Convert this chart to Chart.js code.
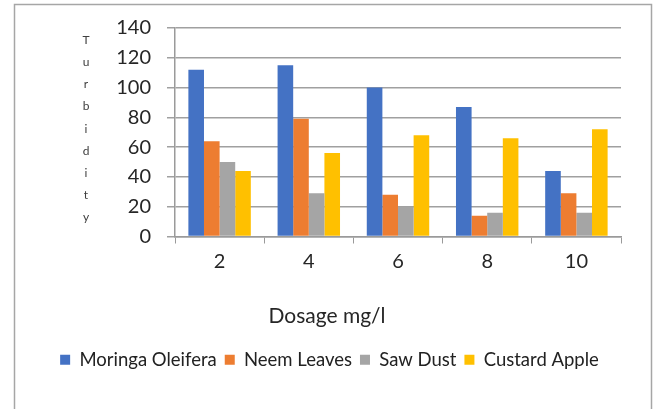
<!DOCTYPE html>
<html lang="en">
  <head>
    <meta charset="UTF-8" />
    <title>Turbidity vs Dosage</title>
    <script src="https://cdn.jsdelivr.net/npm/chart.js"></script>
    <style>
      body { margin: 0; background: #fff; }
    </style>
  </head>
  <body>
    <canvas id="turbChart" width="659" height="409"></canvas>

    <script>
      let labels = ['2', '4', '6', '8', '10'];

      let moringa = [112, 115, 100, 87, 44];
      let neem = [64, 79, 28, 14, 29];
      let sawDust = [50, 29, 20, 16, 16];
      let custard = [44, 56, 68, 66, 72];

      let yTitle = 'Turbidity';
      let xTitle = 'Dosage mg/l';
      let fontName = 'Lato, "Open Sans", sans-serif';

      // frame, stacked y title letters, x title centred on the whole chart
      var extras = {
        id: 'extras',
        afterLayout(chart) {
          // legend is centred on the full width, not on the plot area
          chart.legend.left = 0;
          chart.legend.right = chart.width;
          chart.legend.width = chart.width;
        },
        beforeDraw(chart) {
          const ctx = chart.ctx;
          ctx.save();
          ctx.fillStyle = '#fff';
          ctx.fillRect(0, 0, chart.width, chart.height);
          ctx.strokeStyle = '#a6a6a6';
          ctx.lineWidth = 1.5;
          ctx.strokeRect(14.5, 4.5, 637, 430);
          ctx.restore();
        },
        afterDraw(chart) {
          const ctx = chart.ctx;
          ctx.save();
          ctx.fillStyle = '#404040';
          ctx.font = '12px ' + fontName;
          ctx.textAlign = 'center';
          ctx.textBaseline = 'middle';
          for (let i = 0; i < yTitle.length; i++) {
            ctx.fillText(yTitle[i], 86, 40 + i * 22.2);
          }
          ctx.fillStyle = '#262626';
          ctx.font = '21px ' + fontName;
          ctx.fillText(xTitle, 327, 316);
          ctx.restore();
        },
      };

      var config = {
        type: 'bar',
        data: {
          labels,
          datasets: [
            { label: 'Moringa Oleifera', data: moringa, backgroundColor: '#4472C4' },
            { label: 'Neem Leaves', data: neem, backgroundColor: '#ED7D31' },
            { label: 'Saw Dust', data: sawDust, backgroundColor: '#A5A5A5' },
            { label: 'Custard Apple', data: custard, backgroundColor: '#FFC000' },
          ],
        },
        options: {
          responsive: false,
          animation: false,
          layout: { padding: { top: 27, right: 38, bottom: 30, left: 0 } },
          datasets: {
            bar: { categoryPercentage: 0.7, barPercentage: 1.0 },
          },
          plugins: {
            legend: {
              position: 'bottom',
              labels: {
                color: '#222',
                font: { family: fontName, size: 18.5 },
                boxWidth: 10,
                boxHeight: 10,
                padding: 8,
              },
            },
            tooltip: { enabled: false },
          },
          scales: {
            x: {
              afterFit(scale) { scale.height = 106; },
              grid: {
                offset: true,
                drawOnChartArea: false,
                drawTicks: true,
                tickLength: 7,
                color: '#9a9a9a',
              },
              border: { color: '#9a9a9a', width: 1.5 },
              ticks: {
                color: '#262626',
                font: { family: fontName, size: 20 },
                padding: 6,
              },
            },
            y: {
              min: 0,
              max: 140,
              afterFit(scale) { scale.width = 175; },
              grid: { color: '#a0a0a0', lineWidth: 1.5, tickLength: 8 },
              border: { color: '#9a9a9a', width: 1.5 },
              ticks: {
                stepSize: 20,
                color: '#262626',
                font: { family: fontName, size: 20 },
                padding: 16,
              },
            },
          },
        },
        plugins: [extras],
      };

      var turbChart = new Chart(document.getElementById('turbChart'), config);
    </script>
  </body>
</html>
